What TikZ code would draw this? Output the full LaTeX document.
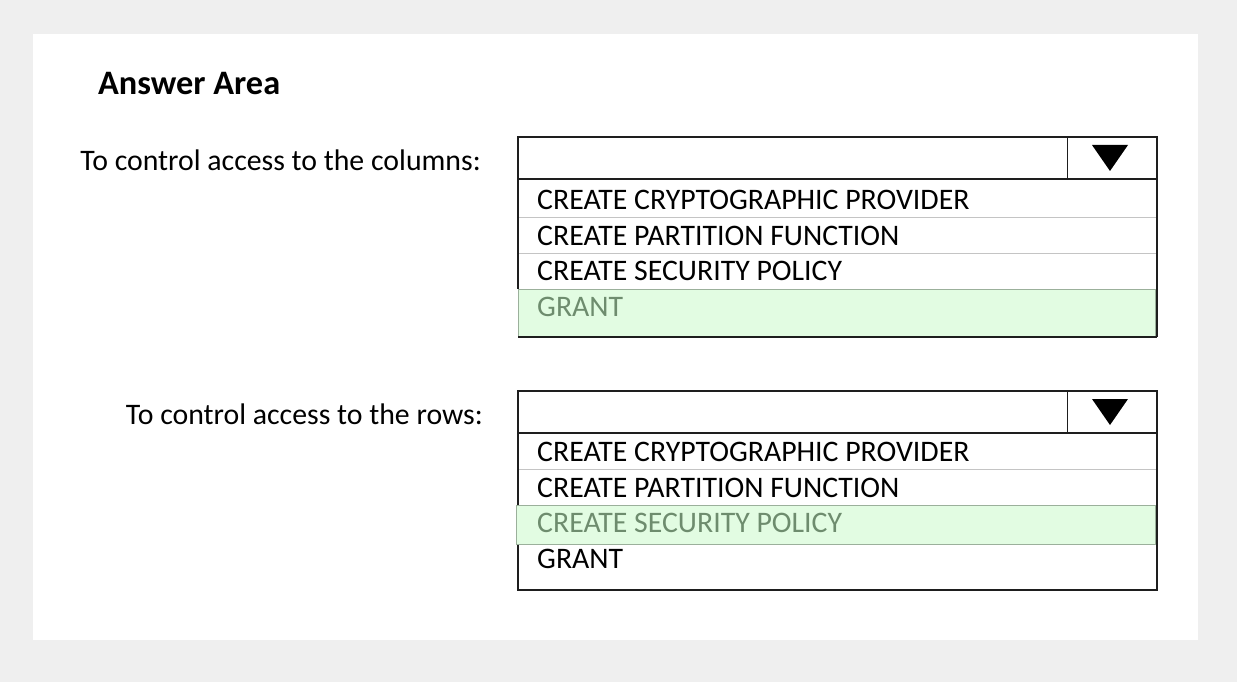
\documentclass[tikz,border=0pt]{standalone}
\usepackage{fontspec}
\setmainfont{Carlito}
\begin{document}
\begin{tikzpicture}[x=1pt,y=-1pt,
  lbl/.style={inner sep=0pt,font=\fontsize{29.8}{31}\selectfont},
  item/.style={lbl,anchor=west,text=black},
  sel/.style={lbl,anchor=west,text=selText},
  boxline/.style={draw=boxBorder,line width=1.6pt},
  sepline/.style={draw=sepGray,line width=1pt},
  hl/.style={fill=hlFill,draw=hlBorder,line width=1pt}]
\definecolor{bgGray}{HTML}{EFEFEF}
\definecolor{boxBorder}{HTML}{1E1E1E}
\definecolor{sepGray}{HTML}{C4C4C4}
\definecolor{hlFill}{HTML}{E2FCE2}
\definecolor{hlBorder}{HTML}{9BB09B}
\definecolor{selText}{HTML}{6E8C6E}
\useasboundingbox (0,0) rectangle (1237,682);
\fill[bgGray] (0,0) rectangle (1237,682);
\fill[white] (33,34) rectangle (1198,640);

\node[anchor=west,inner sep=0pt,font=\fontsize{34.3}{36}\selectfont\bfseries] (title) at (98,84) {Answer Area};

% ---------- first dropdown ----------
\node[lbl,anchor=east] (q1) at (481,160) {To control access to the columns:};
\fill[white] (518,137) rectangle (1157,337);
\draw[hl] (518,289) rectangle (1155,337);
\draw[sepline] (518,217) -- (1157,217);
\draw[sepline] (518,253) -- (1157,253);
\draw[boxline] (518,179) -- (518,289);
\draw[boxline] (1157,179) -- (1157,337);
\draw[boxline] (518,337) -- (1157,337);
\draw[boxline] (518,137) rectangle (1157,179);
\draw[line width=1pt,draw=boxBorder] (1067,137) -- (1067,179);
\fill[black] (1092,145) -- (1128,145) -- (1110,171) -- cycle;
\node[item] (a1) at (537,200) {CREATE CRYPTOGRAPHIC PROVIDER};
\node[item] (a2) at (537,236) {CREATE PARTITION FUNCTION};
\node[item] (a3) at (537,271) {CREATE SECURITY POLICY};
\node[sel]  (a4) at (537,307) {GRANT};

% ---------- second dropdown ----------
\node[lbl,anchor=east] (q2) at (483,414) {To control access to the rows:};
\fill[white] (518,391) rectangle (1157,590);
\draw[sepline] (518,469) -- (1157,469);
\draw[boxline] (518,433) -- (518,590) -- (1157,590) -- (1157,433);
\draw[hl] (516,505) rectangle (1155,544);
\draw[boxline] (518,391) rectangle (1157,433);
\draw[line width=1pt,draw=boxBorder] (1067,391) -- (1067,433);
\fill[black] (1092,399) -- (1128,399) -- (1110,425) -- cycle;
\node[item] (b1) at (537,452) {CREATE CRYPTOGRAPHIC PROVIDER};
\node[item] (b2) at (537,488) {CREATE PARTITION FUNCTION};
\node[sel]  (b3) at (537,523) {CREATE SECURITY POLICY};
\node[item] (b4) at (537,559) {GRANT};
\end{tikzpicture}
\end{document}
